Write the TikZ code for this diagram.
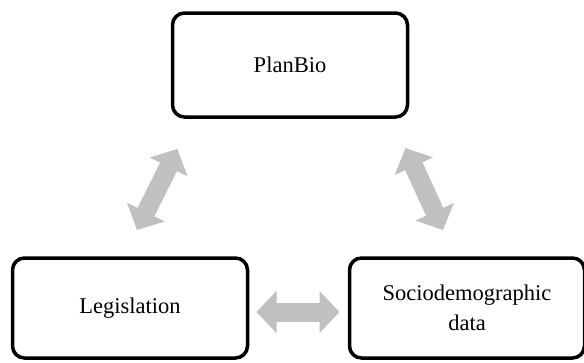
\documentclass[tikz,border=0pt]{standalone}
\usepackage{fontspec}
\setmainfont{Liberation Serif}
\usetikzlibrary{positioning,calc,arrows.meta}
\definecolor{arrowgray}{RGB}{192,192,192}

\begin{document}
\begin{tikzpicture}[x=1pt,y=1pt]
        \tikzstyle{box}=[draw,rectangle,rounded corners=12pt,line width=3.5pt,minimum width=235pt,minimum height=100pt,outer sep=0pt,align=center,font=\fontsize{22.5}{30}\selectfont]
        \tikzstyle{link}=[draw=arrowgray,line width=19pt,{Triangle[length=20pt,width=41pt]}-{Triangle[length=20pt,width=41pt]}]
        \useasboundingbox (0,0) rectangle (584,-362);

        \node[box,minimum height=104pt] (planbio) at (290,-65) {PlanBio};
        \node[box] (legislation) [below=141pt of planbio,xshift=-160pt] {Legislation};
        \node[box] (socio) [right=102pt of legislation] {Sociodemographic\\data};

        \coordinate (legtop) at ($(legislation.north)+(7pt,28pt)$);
        \coordinate (plansw) at ($(planbio.south west)+(5pt,-32pt)$);
        \coordinate (planse) at ($(planbio.south east)+(-2pt,-31pt)$);
        \coordinate (sociotop) at ($(socio.north)+(-24pt,28pt)$);
        \coordinate (legeast) at ($(legislation.east)+(9pt,-4pt)$);
        \coordinate (sociowest) at ($(socio.west)+(-10pt,-4pt)$);

        \draw[link] (legtop) -- (plansw);
        \draw[link] (planse) -- (sociotop);
        \draw[link] (legeast) -- (sociowest);
    \end{tikzpicture}
\end{document}
